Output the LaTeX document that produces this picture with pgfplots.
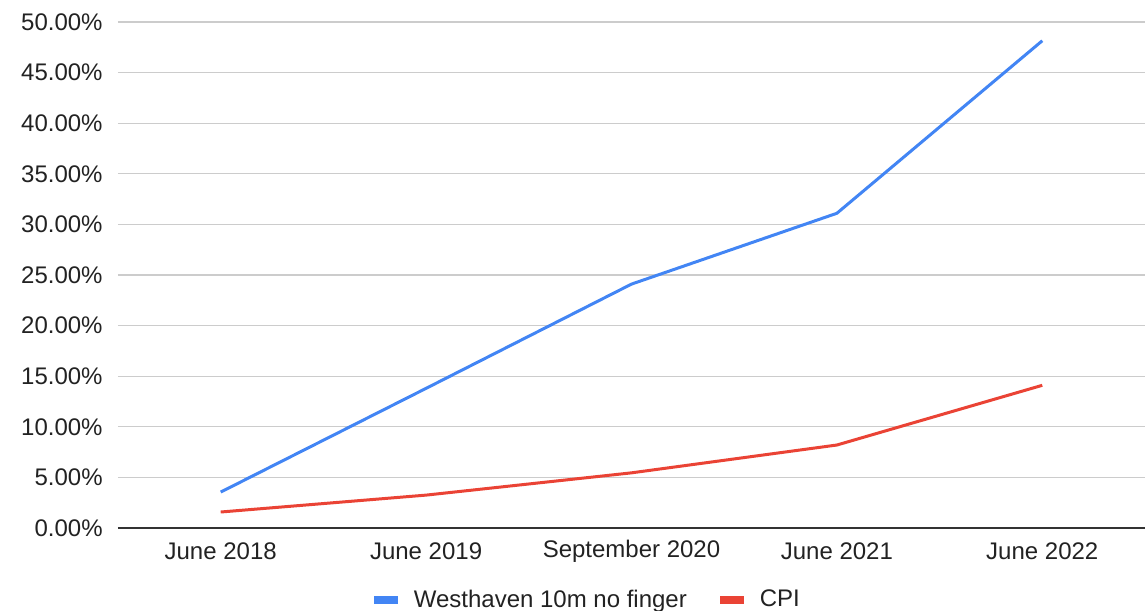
\documentclass[border=0pt]{standalone}
\usepackage{fontspec}
\setmainfont{Liberation Sans}
\usepackage{pgfplots}
\pgfplotsset{compat=1.18}
\definecolor{gblue}{HTML}{4285F4}
\definecolor{gred}{HTML}{EA4335}
\definecolor{txt}{HTML}{222222}
\begin{document}
\begin{tikzpicture}
\begin{axis}[
    scale only axis, width=513.5bp, height=253bp,
    at={(0,0)}, anchor=south west,
    xmin=-0.5, xmax=4.5, ymin=0, ymax=50,
    xtick={0,1,2,3,4},
    xticklabels={June 2018,June 2019,September 2020,June 2021,June 2022},
    ytick={0,5,...,50},
    yticklabel={\pgfmathprintnumber[fixed,fixed zerofill,precision=2]{\tick}\%},
    /pgf/number format/assume math mode=true,
    major tick length=0pt,
    ymajorgrids, grid style={draw=black!20, line width=0.6bp},
    axis x line*=bottom, axis y line*=left,
    x axis line style={draw=black!80, line width=0.8bp, -},
    y axis line style={draw=none},
    tick label style={font=\fontsize{12bp}{14bp}\selectfont, text=txt},
    yticklabel style={anchor=east, inner sep=0pt, xshift=-7.5bp},
    xticklabel style={anchor=center, inner sep=0pt, yshift=-11.5bp},
    legend style={at={(0.457,0)}, anchor=center, yshift=-36bp, draw=none,
      font=\fontsize{12bp}{14bp}\selectfont, text=txt,
      legend columns=2, column sep=13bp,
      /tikz/every odd column/.append style={column sep=4bp}},
    legend cell align=left,
    legend image code/.code={\draw[line width=3.5bp, #1] (0bp,0bp) -- (12bp,0bp);},
]
\addplot[gblue, line width=1.5bp] coordinates {
(0,3.55) (1,13.8) (2,24.1) (3,31.1) (4,48.15)};
\addlegendentry{Westhaven 10m no finger}
\addplot[gred, line width=1.5bp] coordinates {
(0,1.58) (1,3.25) (2,5.45) (3,8.2) (4,14.1)};
\addlegendentry{CPI}
\end{axis}
\pgfresetboundingbox
\path[use as bounding box] (-59bp,-41.5bp) rectangle (515bp,264bp);
\end{tikzpicture}
\end{document}
